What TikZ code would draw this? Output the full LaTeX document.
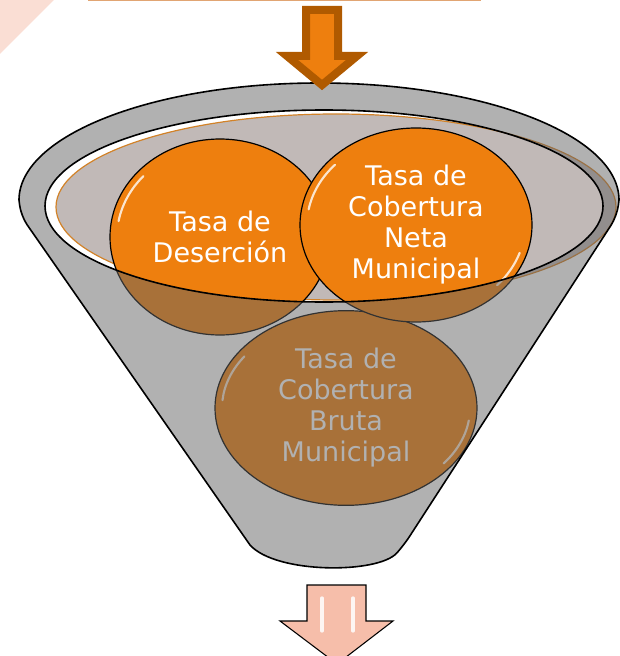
\documentclass[tikz,border=0pt]{standalone}
\usepackage{fontspec}
\setmainfont{DejaVu Sans}
\usepackage{xcolor}
\usetikzlibrary{shapes.geometric}
\definecolor{bubbleorange}{RGB}{238,127,14}
\definecolor{arrowedge}{RGB}{176,90,0}
\definecolor{liquidfill}{RGB}{193,185,183}
\definecolor{liquidline}{RGB}{210,130,40}
\definecolor{salmon}{RGB}{246,190,170}
\definecolor{pinkband}{RGB}{250,222,212}
\definecolor{topedge}{RGB}{225,165,115}
\definecolor{funnelgray}{RGB}{100,100,100}
\def\funnelbody{(19,200) arc[start angle=180,end angle=360,x radius=300,y radius=117]
  [rounded corners=8pt] -- (617,216) -- (404,545) [sharp corners]
  .. controls (378,574) and (276,574) .. (250,545)
  [rounded corners=8pt] -- (21,216) [sharp corners] -- cycle}

\begin{document}
\begin{tikzpicture}[x=0.75pt,y=-0.75pt,
  bubble/.style={ellipse,draw=black,line width=0.9pt,fill=bubbleorange,inner sep=0pt,
    text=white,align=center,font=\fontsize{20.25}{23.25}\selectfont},
  gloss/.style={white,line width=1.6pt,opacity=0.8,line cap=round}]
  \useasboundingbox (0,0) rectangle (619,656);

  % Draw corner band and edge of the box above
  \fill[pinkband] (0,0) -- (54,0) -- (0,54) -- cycle;
  \draw[topedge,line width=1.5pt] (88,0.5) -- (481,0.5);

  % Draw funnel body and liquid
  \fill[white] \funnelbody;
  \draw[liquidline,fill=liquidfill,line width=0.9pt] (336,207) ellipse[x radius=280,y radius=93];

  % Draw bubbles
  \node[bubble,minimum width=196.5pt,minimum height=146pt] (bruta) at (346,408)
    {Tasa de\\Cobertura\\Bruta\\Municipal};
  \node[bubble,minimum width=165pt,minimum height=147pt] (desercion) at (220,237)
    {Tasa de\\Deserción};
  \node[bubble,minimum width=174pt,minimum height=145.5pt] (neta) at (416,225)
    {Tasa de\\Cobertura\\Neta\\Municipal};

  % Gloss on bubbles
  \draw[gloss] ([shift={(190:103 and 91)}]desercion.center) arc[start angle=190,end angle=222,x radius=103,y radius=91];
  \draw[gloss] ([shift={(190:109 and 90)}]neta.center) arc[start angle=190,end angle=222,x radius=109,y radius=90];
  \draw[gloss] ([shift={(18:109 and 90)}]neta.center) arc[start angle=18,end angle=42,x radius=109,y radius=90];
  \draw[gloss] ([shift={(185:124 and 90)}]bruta.center) arc[start angle=185,end angle=215,x radius=124,y radius=90];
  \draw[gloss] ([shift={(8:124 and 90)}]bruta.center) arc[start angle=8,end angle=38,x radius=124,y radius=90];

  % Shade the part inside the funnel
  \fill[funnelgray,opacity=0.5,even odd rule] \funnelbody (324,206) ellipse[x radius=279,y radius=96];
  \draw[line width=1.2pt] \funnelbody;
  \draw[line width=1.2pt] (324,206) ellipse[x radius=279,y radius=96];

  % Draw arrows
  \draw[arrowedge,fill=bubbleorange,line width=6pt,miter limit=10]
    (306,10) -- (338,10) -- (338,56) -- (357,56) -- (322,85) -- (287,56) -- (306,56) -- cycle;
  \draw[fill=salmon,line width=0.8pt]
    (307,585) -- (366,585) -- (366,621) -- (393,621) -- (337,664) -- (280,621) -- (307,621) -- cycle;
  \draw[white,line width=2.5pt,opacity=0.85,line cap=round] (322,598) -- (322,631);
  \draw[white,line width=2.5pt,opacity=0.85,line cap=round] (353,598) -- (353,631);
\end{tikzpicture}
\end{document}
